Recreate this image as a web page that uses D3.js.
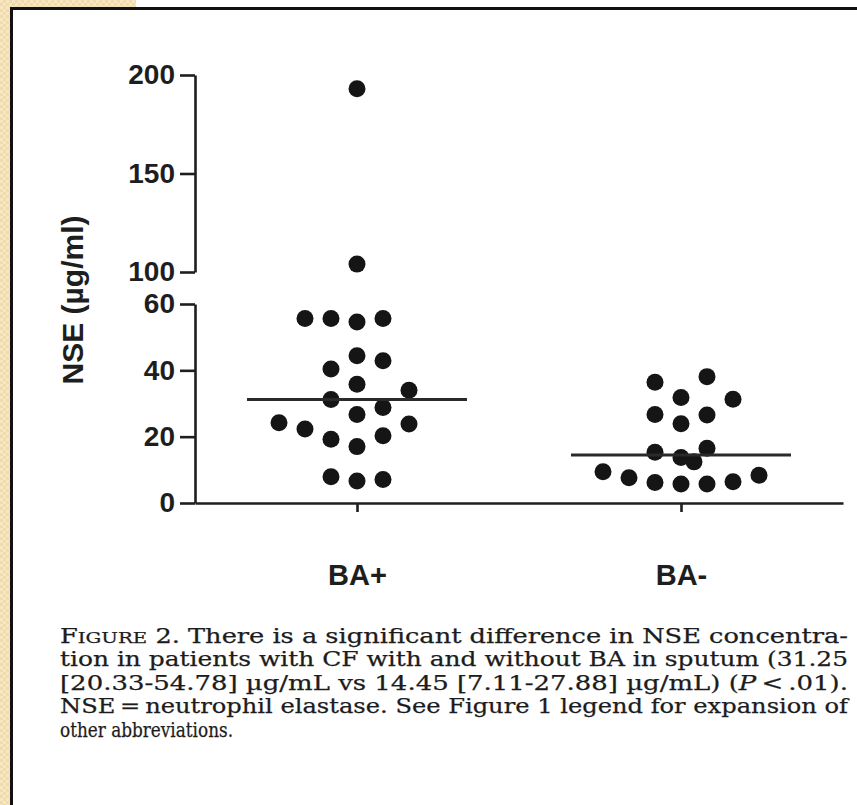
<!DOCTYPE html>
<html>
<head>
<meta charset="utf-8">
<script src="https://cdn.jsdelivr.net/npm/d3@7"></script>
<style>
  body { margin: 0; background: #fff; }
  svg { display: block; }
  .axis text { font-family: "Liberation Sans", Arial, sans-serif; font-weight: bold; font-size: 28px; fill: #1e1e1e; }
  .axis path, .axis line { stroke: #1e1e1e; stroke-width: 2.6; }
  .caption { font-family: "DejaVu Serif", "Liberation Serif", serif; font-size: 19.5px; fill: #1c1c1c; stroke: #1c1c1c; stroke-width: 0.25; }
</style>
</head>
<body>
<div id="chart"></div>
<script>
// groups on the x axis
const groups = ["BA+", "BA-"];
// NSE (µg/ml), BA+ group
const baPlus = [193, 54.6, 55.6, 55.6, 55.6, 44.4, 104, 42.9, 40.4, 35.8, 31.2, 26.7, 28.8, 34.0,
  17.0, 6.6, 19.2, 20.3, 22.3, 23.8, 24.2, 7.1, 7.9];
// NSE (µg/ml), BA- group
const baMinus = [31.8, 38.1, 36.4, 31.3, 23.9, 26.5, 26.7, 13.7, 15.3, 16.5, 5.7, 5.7, 6.2, 6.4,
  7.6, 8.4, 9.4, 12.4];
// broken y axis: lower and upper segments
const lowTicks = [0, 20, 40, 60];
const highTicks = [100, 150, 200];
const yTitle = "NSE (\u00b5g/ml)";
const captionLines = [
  [["F", ""], ["IGURE", "sc"], [" 2. There is a significant difference in NSE concentra-", ""]],
  [["tion in patients with CF with and without BA in sputum (31.25", ""]],
  [["[20.33-54.78] \u00b5g/mL vs 14.45 [7.11-27.88] \u00b5g/mL) (", ""], ["P", "it"], ["\u2009<\u2009.01).", ""]],
  [["NSE\u2009=\u2009neutrophil elastase. See Figure 1 legend for expansion of", ""]],
  [["other abbreviations.", ""]]
];
const captionWidths = [788, 788, 788, 788, 173];

const W = 857, H = 805;
const svg = d3.select("#chart").append("svg").attr("width", W).attr("height", H);

// beige textured page edge
const defs = svg.append("defs");
const pat = defs.append("pattern").attr("id", "paper")
  .attr("width", 6).attr("height", 6).attr("patternUnits", "userSpaceOnUse");
pat.append("rect").attr("width", 6).attr("height", 6).attr("fill", "#f1dba8");
pat.append("rect").attr("width", 3).attr("height", 3).attr("fill", "#f7e7c2");
pat.append("rect").attr("x", 3).attr("y", 3).attr("width", 3).attr("height", 3).attr("fill", "#f7e7c2");
svg.append("rect").attr("x", 0).attr("y", 0).attr("width", 11).attr("height", H).attr("fill", "url(#paper)");
svg.append("rect").attr("x", 0).attr("y", 0).attr("width", 136).attr("height", 8).attr("fill", "url(#paper)");
svg.append("rect").attr("x", 11.5).attr("y", 8.5).attr("width", W + 10).attr("height", H + 10)
  .attr("fill", "#fff").attr("stroke", "#111").attr("stroke-width", 3);

const axisX = 195;
const yLow = d3.scaleLinear().domain([0, 60]).range([503, 304]);
const yHigh = d3.scaleLinear().domain([100, 200]).range([272, 75]);
const y = v => v > 60 ? yHigh(v) : yLow(v);
const x = d3.scalePoint().domain(groups).range([axisX, 843]).padding(0.5);

// y axis, two segments
svg.append("g").attr("class", "axis").attr("transform", `translate(${axisX},0)`)
  .call(d3.axisLeft(yLow).tickValues(lowTicks).tickSize(15).tickSizeOuter(0).tickPadding(5));
svg.append("g").attr("class", "axis").attr("transform", `translate(${axisX},0)`)
  .call(d3.axisLeft(yHigh).tickValues(highTicks).tickSize(15).tickSizeOuter(0).tickPadding(5));

// x axis
const xAxis = svg.append("g").attr("class", "axis").attr("transform", `translate(0,${yLow(0)})`)
  .call(d3.axisBottom(x).tickSize(9).tickSizeOuter(0).tickPadding(52));
xAxis.selectAll("text").style("font-size", "29px");

svg.append("text")
  .attr("transform", `translate(83,${(yHigh(200) + yLow(0)) / 2 + 11}) rotate(-90)`)
  .attr("text-anchor", "middle")
  .style("font-family", '"Liberation Sans", Arial, sans-serif')
  .style("font-weight", "bold").style("font-size", "30px").style("fill", "#1e1e1e")
  .text(yTitle);

// scatter dots: greedy column packing, alternate sides
const step = 26, minGap = 24, maxCol = 3, r = 8.5;
function swarm(values, cx) {
  const placed = [];
  return values.map((v, i) => {
    const py = y(v);
    const side = i % 2 === 0 ? -1 : 1;
    const cols = [0];
    for (let k = 1; k <= maxCol; k++) cols.push(side * k, -side * k);
    let col = cols.find(c => !placed.some(p => p.col === c && Math.abs(p.py - py) < minGap));
    if (col === undefined) col = side * 0.5;
    placed.push({ col, py });
    return { x: cx + col * step, y: py };
  });
}

const series = [baPlus, baMinus];
series.forEach((vals, gi) => {
  const cx = x(groups[gi]);
  const pts = swarm(vals, cx);
  svg.append("g").selectAll("circle").data(pts).join("circle")
    .attr("cx", d => d.x).attr("cy", d => d.y).attr("r", r).attr("fill", "#151515");
  const med = y(d3.median(vals));
  svg.append("line").attr("x1", cx - 110).attr("x2", cx + 110)
    .attr("y1", med).attr("y2", med).attr("stroke", "#2a2a2a").attr("stroke-width", 3);
});

// caption
const cap = svg.append("g").attr("class", "caption");
captionLines.forEach((parts, i) => {
  const t = cap.append("text").attr("x", 60).attr("y", 643 + i * 23.4)
    .attr("textLength", captionWidths[i]).attr("lengthAdjust", "spacingAndGlyphs");
  parts.forEach(([s, kind]) => {
    const ts = t.append("tspan").text(s);
    if (kind === "sc") ts.style("font-size", "15px");
    if (kind === "it") ts.style("font-style", "italic");
  });
});
</script>
</body>
</html>
